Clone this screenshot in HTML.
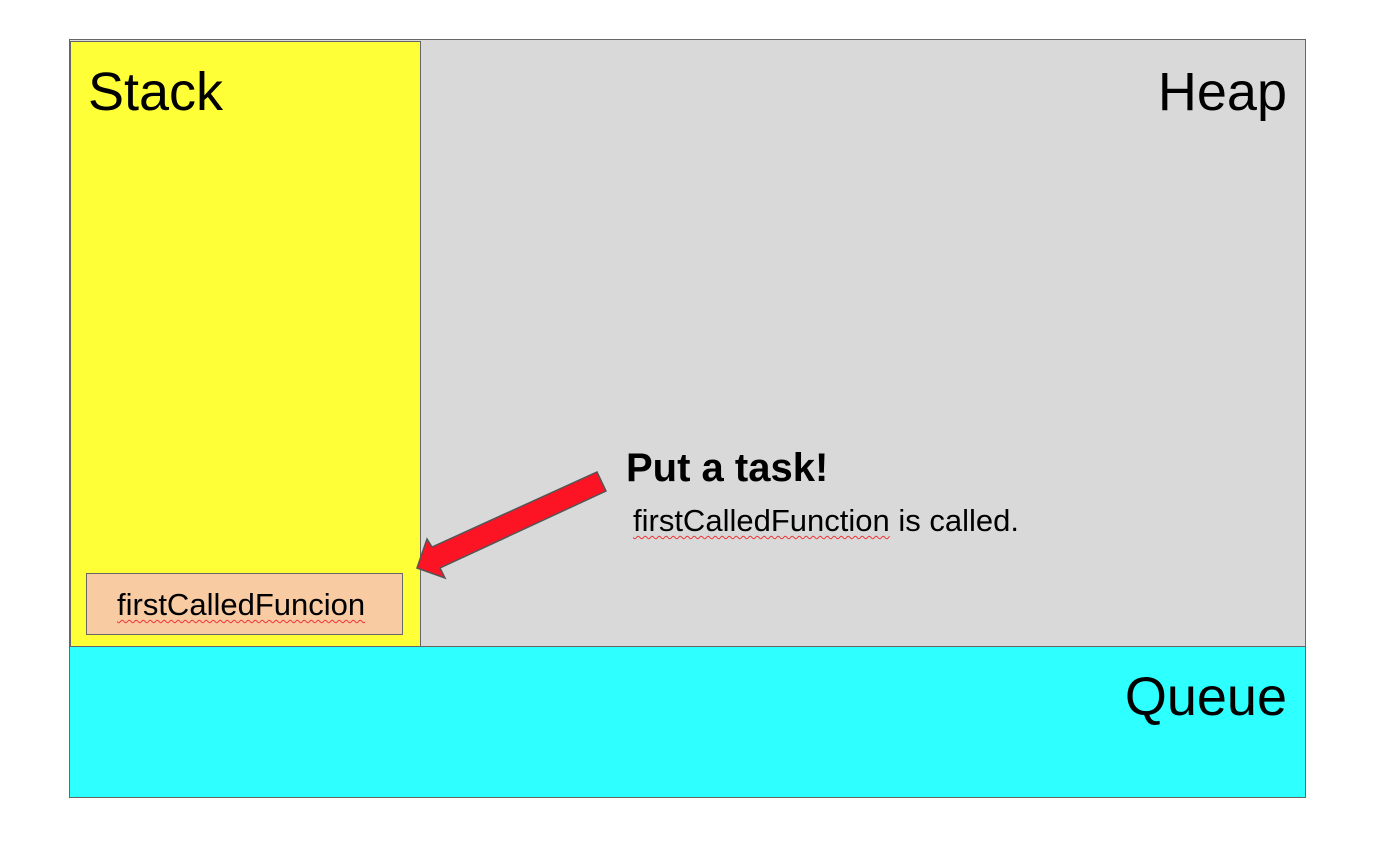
<!DOCTYPE html>
<html><head><style>
body{margin:0;width:1390px;height:848px;background:#fff;position:relative;font-family:"Liberation Sans",Arial,sans-serif;overflow:hidden}
div{position:absolute;box-sizing:border-box}
</style></head><body>
<div style="left:69px;top:39px;width:1237px;height:609px;background:#d9d9d9;border:1.5px solid #666"></div>
<div style="left:70px;top:41px;width:351px;height:607px;background:#ffff38;border:1.5px solid #666"></div>
<div style="left:69px;top:646px;width:1237px;height:152px;background:#2effff;border:1.5px solid #666"></div>
<div style="left:88px;top:63px;font-size:54px;line-height:58px">Stack</div>
<div style="right:103px;top:63px;font-size:54px;line-height:58px">Heap</div>
<div style="right:103px;top:668px;font-size:54px;line-height:58px">Queue</div>
<div style="left:86px;top:573px;width:317px;height:62px;background:#f8cba2;border:1.5px solid #666"></div>
<div style="left:117px;top:588px;font-size:31px;line-height:34px;text-decoration:underline wavy #e33;text-decoration-thickness:1px;text-underline-offset:4px">firstCalledFuncion</div>
<div style="left:626px;top:446px;font-size:40px;font-weight:bold;line-height:44px">Put a task!</div>
<div style="left:633px;top:504px;font-size:31px;line-height:34px"><span style="text-decoration:underline wavy #e33;text-decoration-thickness:1px;text-underline-offset:4px">firstCalledFunction</span> is called.</div>
<svg style="position:absolute;left:0;top:0" width="1390" height="848"><polygon points="417,568 427,539 432,547 597,472 606,491 440,568 445,578" fill="#fc1424" stroke="#555" stroke-width="1.5"/></svg>
</body></html>
